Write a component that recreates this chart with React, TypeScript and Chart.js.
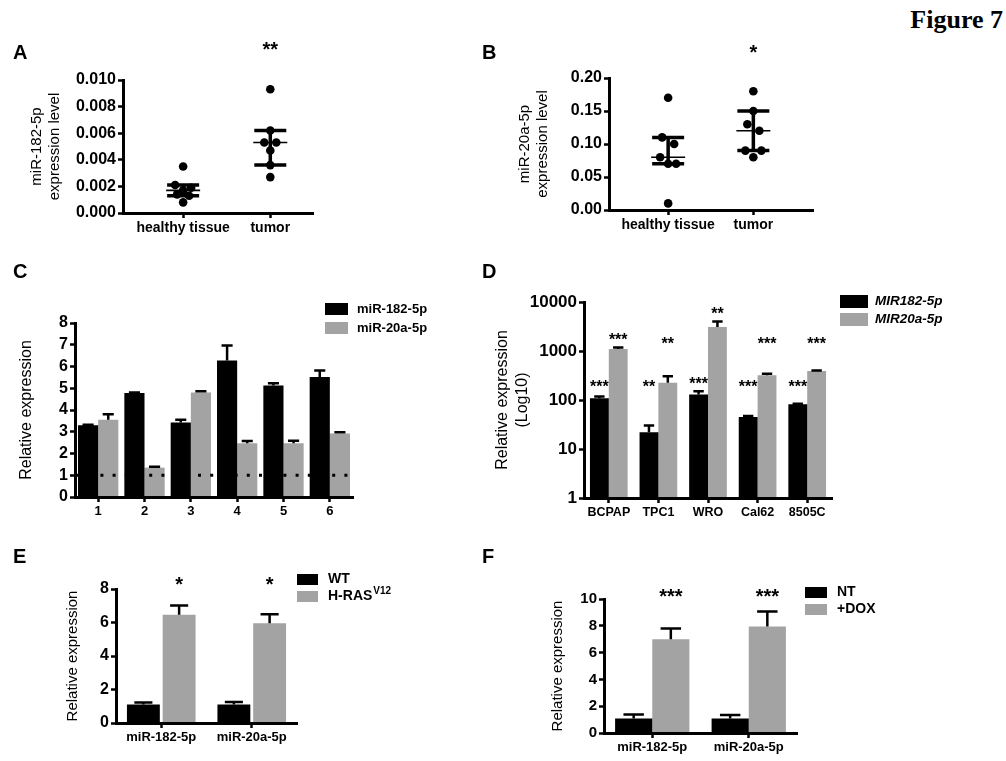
import React, { useEffect, useRef } from 'react';
import { Chart, registerables } from 'chart.js';
Chart.register(...registerables);

const FONT = "'Liberation Sans', Arial, Helvetica, sans-serif";
const BLACK = '#000000';
const GRAY = '#a3a3a3';

// ---------- Panel A ----------
const A_GROUPS = ['healthy tissue', 'tumor'];
const A_HEALTHY = [0.0035, 0.0021, 0.0019, 0.0017, 0.0014, 0.0013, 0.0008];
const A_TUMOR = [0.0093, 0.0062, 0.0053, 0.0053, 0.0047, 0.0036, 0.0027];
const A_TICKS = [0, 0.002, 0.004, 0.006, 0.008, 0.01];
const A_SIG = ['', '**'];

// ---------- Panel B ----------
const B_GROUPS = ['healthy tissue', 'tumor'];
const B_HEALTHY = [0.17, 0.11, 0.1, 0.08, 0.07, 0.07, 0.01];
const B_TUMOR = [0.18, 0.15, 0.13, 0.12, 0.09, 0.09, 0.08];
const B_TICKS = [0, 0.05, 0.1, 0.15, 0.2];
const B_SIG = ['', '*'];

// ---------- Panel C ----------
const C_SAMPLES = ['1', '2', '3', '4', '5', '6'];
const C_MIR182 = [3.3, 4.78, 3.42, 6.28, 5.13, 5.52];
const C_MIR182_ERR = [0.02, 0.03, 0.13, 0.68, 0.1, 0.3];
const C_MIR20A = [3.55, 1.35, 4.8, 2.47, 2.47, 2.92];
const C_MIR20A_ERR = [0.25, 0.04, 0.06, 0.1, 0.12, 0.06];
const C_TICKS = [0, 1, 2, 3, 4, 5, 6, 7, 8];
const C_REF = 1;

// ---------- Panel D ----------
const D_LINES = ['BCPAP', 'TPC1', 'WRO', 'Cal62', '8505C'];
const D_MIR182 = [108, 22, 130, 45, 82];
const D_MIR182_ERR = [10, 8, 20, 2, 2];
const D_MIR20A = [1100, 225, 3100, 320, 390];
const D_MIR20A_ERR = [80, 80, 900, 25, 10];
const D_TICKS = [1, 10, 100, 1000, 10000];
const D_SIG_182 = ['***', '**', '***', '***', '***'];
const D_SIG_20A = ['***', '**', '**', '***', '***'];

// ---------- Panel E ----------
const E_GROUPS = ['miR-182-5p', 'miR-20a-5p'];
const E_WT = [1.1, 1.1];
const E_WT_ERR = [0.12, 0.16];
const E_RAS = [6.46, 5.96];
const E_RAS_ERR = [0.56, 0.54];
const E_TICKS = [0, 2, 4, 6, 8];
const E_SIG = ['*', '*'];

// ---------- Panel F ----------
const F_GROUPS = ['miR-182-5p', 'miR-20a-5p'];
const F_NT = [1.08, 1.08];
const F_NT_ERR = [0.3, 0.27];
const F_DOX = [7.0, 7.95];
const F_DOX_ERR = [0.8, 1.12];
const F_TICKS = [0, 2, 4, 6, 8, 10];
const F_SIG = ['***', '***'];

type Panel = { left: number; top: number; width: number; height: number; area: { l: number; t: number; r: number; b: number } };

const PANELS: Record<string, Panel> = {
  A: { left: 0, top: 30, width: 340, height: 215, area: { l: 123, t: 80, r: 313, b: 213 } },
  B: { left: 470, top: 30, width: 350, height: 215, area: { l: 609, t: 78, r: 813, b: 210 } },
  C: { left: 0, top: 255, width: 480, height: 275, area: { l: 75, t: 323, r: 353, b: 497 } },
  D: { left: 476, top: 255, width: 530, height: 275, area: { l: 584, t: 302, r: 832, b: 498 } },
  E: { left: 0, top: 540, width: 480, height: 221, area: { l: 116, t: 589, r: 297, b: 723 } },
  F: { left: 476, top: 540, width: 530, height: 221, area: { l: 604, t: 599, r: 797, b: 733 } },
};

function fontStr(size: number, weight = 'bold', style = 'normal') {
  return `${style} ${weight} ${size}px ${FONT}`;
}

function txt(ctx: CanvasRenderingContext2D, s: string, x: number, y: number, font: string, align: CanvasTextAlign = 'left', baseline: CanvasTextBaseline = 'middle') {
  ctx.save();
  ctx.font = font;
  ctx.fillStyle = BLACK;
  ctx.textAlign = align;
  ctx.textBaseline = baseline;
  ctx.fillText(s, x, y);
  ctx.restore();
}

function stars(ctx: CanvasRenderingContext2D, s: string, x: number, cy: number, size: number) {
  if (!s) return;
  txt(ctx, s, x, cy + 0.55 * size, fontStr(size), 'center', 'alphabetic');
}

function drawLegend(chart: any, p: Panel, o: { x: number; tops: number[]; bw: number; bh: number; tx: number; size: number; italic?: boolean }) {
  const ctx: CanvasRenderingContext2D = chart.ctx;
  chart.data.datasets.forEach((ds: any, i: number) => {
    const top = o.tops[i] - p.top;
    ctx.save();
    ctx.fillStyle = ds.backgroundColor;
    ctx.fillRect(o.x - p.left, top, o.bw, o.bh);
    ctx.restore();
    const cy = top + o.bh / 2;
    const [main, sup] = String(ds.label).split('^');
    const f = fontStr(o.size, 'bold', o.italic ? 'italic' : 'normal');
    txt(ctx, main, o.tx - p.left, cy, f);
    if (sup) {
      ctx.save();
      ctx.font = f;
      const w = ctx.measureText(main).width;
      ctx.restore();
      txt(ctx, sup, o.tx - p.left + w + 1, cy - 5, fontStr(Math.round(o.size * 0.68)));
    }
  });
}

function panelLetter(chart: any, p: Panel, letter: string, x: number, y: number) {
  txt(chart.ctx, letter, x - p.left, y - p.top, fontStr(20));
}

function drawErrorBars(chart: any) {
  const ctx: CanvasRenderingContext2D = chart.ctx;
  const y = chart.scales.y;
  chart.data.datasets.forEach((ds: any, di: number) => {
    const errs: number[] | undefined = ds.errors;
    if (!errs) return;
    const meta = chart.getDatasetMeta(di);
    meta.data.forEach((bar: any, i: number) => {
      const { x, y: yTop, width } = bar.getProps(['x', 'y', 'width'], true);
      const top = y.getPixelForValue(ds.data[i] + errs[i]);
      const w = width * 0.55;
      ctx.save();
      ctx.strokeStyle = BLACK;
      ctx.lineWidth = 2.5;
      ctx.beginPath();
      ctx.moveTo(x, yTop);
      ctx.lineTo(x, top);
      ctx.moveTo(x - w / 2, top);
      ctx.lineTo(x + w / 2, top);
      ctx.stroke();
      ctx.restore();
    });
  });
}

function quantile(vals: number[], q: number) {
  const s = [...vals].sort((a, b) => a - b);
  const n = s.length;
  const r = q * (n + 1);
  const lo = Math.floor(r);
  const f = r - lo;
  if (lo < 1) return s[0];
  if (lo >= n) return s[n - 1];
  return s[lo - 1] + f * (s[lo] - s[lo - 1]);
}

function gridOpts() {
  return { display: true, drawOnChartArea: false, drawTicks: true, tickLength: 5, tickWidth: 2.5, tickColor: BLACK, offset: false };
}
function borderOpts() {
  return { display: true, width: 3, color: BLACK, z: 1 };
}

function yOpts(p: Panel, o: { type?: string; min: number; max: number; ticks: number[]; fmt: (v: number) => string; title: string[]; titleSize: number; titleLH: number; tickSize: number; titleX: number }) {
  return {
    type: o.type || 'linear',
    min: o.min,
    max: o.max,
    afterFit: (s: any) => { s.width = p.area.l - p.left; },
    afterBuildTicks: (s: any) => { s.ticks = o.ticks.map((v) => ({ value: v })); },
    grid: gridOpts(),
    border: borderOpts(),
    ticks: { color: BLACK, padding: 2, autoSkip: false, font: { family: FONT, size: o.tickSize, weight: 'bold' }, callback: (v: any) => o.fmt(Number(v)) },
    title: {
      display: true,
      text: o.title,
      color: BLACK,
      font: { family: FONT, size: o.titleSize, weight: 'normal', lineHeight: o.titleLH },
      padding: { top: o.titleX - p.left - (o.titleSize * o.titleLH) / 2, bottom: 0 },
    },
  };
}

function xCatOpts(p: Panel, size: number) {
  return {
    type: 'category',
    afterFit: (s: any) => { s.height = p.top + p.height - p.area.b; },
    grid: gridOpts(),
    border: borderOpts(),
    ticks: { color: BLACK, padding: 2, autoSkip: false, maxRotation: 0, font: { family: FONT, size, weight: 'bold' } },
  };
}

function baseOptions(p: Panel, scales: any) {
  return {
    responsive: false,
    maintainAspectRatio: false,
    animation: false,
    devicePixelRatio: 1,
    layout: { padding: { left: 0, top: p.area.t - p.top, right: p.left + p.width - p.area.r, bottom: 0 } },
    plugins: { legend: { display: false }, tooltip: { enabled: false }, title: { display: false } },
    scales,
  };
}

// ------- scatter panels (A, B) -------
function scatterChart(canvas: HTMLCanvasElement, p: Panel, o: { letter: string; letterX: number; groups: string[]; healthy: number[]; tumor: number[]; ticks: number[]; dec: number; title: string[]; titleX: number; sig: string[]; sigAbove: number; xmin: number; xmax: number }) {
  const sets = [o.healthy, o.tumor];
  const cfg: any = {
    type: 'scatter',
    data: {
      datasets: sets.map((vals, gi) => ({
        label: o.groups[gi],
        data: vals.map((v) => ({ x: gi + 1, y: v })),
        pointRadius: 4.3,
        pointHoverRadius: 4.3,
        pointBackgroundColor: BLACK,
        pointBorderWidth: 0,
        backgroundColor: BLACK,
      })),
    },
    options: baseOptions(p, {
      x: {
        type: 'linear',
        min: o.xmin,
        max: o.xmax,
        afterFit: (s: any) => { s.height = p.top + p.height - p.area.b; },
        afterBuildTicks: (s: any) => { s.ticks = o.groups.map((_, i) => ({ value: i + 1 })); },
        grid: gridOpts(),
        border: borderOpts(),
        ticks: { color: BLACK, padding: 2, autoSkip: false, maxRotation: 0, font: { family: FONT, size: 14, weight: 'bold' }, callback: (v: any) => o.groups[Number(v) - 1] ?? '' },
      },
      y: yOpts(p, { min: o.ticks[0], max: o.ticks[o.ticks.length - 1], ticks: o.ticks, fmt: (v) => v.toFixed(o.dec), title: o.title, titleSize: 15, titleLH: 1.2, tickSize: 16, titleX: o.titleX }),
    }),
    plugins: [
      {
        id: 'scatterDeco',
        beforeDatasetsDraw(chart: any) {
          const ctx: CanvasRenderingContext2D = chart.ctx;
          const xs = chart.scales.x;
          const ys = chart.scales.y;
          sets.forEach((vals, gi) => {
            const cx = xs.getPixelForValue(gi + 1);
            const q1 = ys.getPixelForValue(quantile(vals, 0.25));
            const md = ys.getPixelForValue(quantile(vals, 0.5));
            const q3 = ys.getPixelForValue(quantile(vals, 0.75));
            ctx.save();
            ctx.strokeStyle = BLACK;
            ctx.lineWidth = 3.5;
            ctx.beginPath();
            ctx.moveTo(cx, q1); ctx.lineTo(cx, q3);
            ctx.moveTo(cx - 16, q1); ctx.lineTo(cx + 16, q1);
            ctx.moveTo(cx - 16, q3); ctx.lineTo(cx + 16, q3);
            ctx.stroke();
            ctx.lineWidth = 1.6;
            ctx.beginPath();
            ctx.moveTo(cx - 17, md); ctx.lineTo(cx + 17, md);
            ctx.stroke();
            ctx.restore();
          });
        },
        afterDraw(chart: any) {
          const xs = chart.scales.x;
          panelLetter(chart, p, o.letter, o.letterX, 53);
          o.sig.forEach((s, i) => stars(chart.ctx, s, xs.getPixelForValue(i + 1), chart.chartArea.top - o.sigAbove, 20));
        },
      },
    ],
  };
  const ch = new Chart(canvas, cfg);
  // beeswarm-style spreading of points that share a row
  const xs = ch.scales.x as any;
  const ys = ch.scales.y as any;
  ch.data.datasets.forEach((ds: any, gi: number) => {
    const vals: number[] = sets[gi];
    const order = vals.map((_, i) => i).sort((a, b) => vals[b] - vals[a]);
    const xv = new Array(vals.length).fill(gi + 1);
    const cpx = xs.getPixelForValue(gi + 1);
    let bin: number[] = [];
    let start: number | null = null;
    const flush = () => {
      const k = bin.length;
      const slots = k === 3 ? [-1, 1, 0] : bin.map((_, j) => j - (k - 1) / 2);
      const unit = k === 2 ? 12 : 8;
      bin.forEach((idx, j) => { xv[idx] = xs.getValueForPixel(cpx + slots[j] * unit); });
      bin = [];
    };
    order.forEach((idx) => {
      const py = ys.getPixelForValue(vals[idx]);
      if (start === null || py - start > 7) { flush(); start = py; }
      bin.push(idx);
    });
    flush();
    ds.data = vals.map((v, i) => ({ x: xv[i], y: v }));
  });
  ch.update();
  return ch;
}

// ------- bar panels -------
function barChart(canvas: HTMLCanvasElement, p: Panel, o: {
  labels: string[]; series: { label: string; data: number[]; err: number[]; color: string }[];
  barPct: number; catPct: number; xSize: number;
  y: any; extra: (chart: any) => void;
}) {
  const cfg: any = {
    type: 'bar',
    data: {
      labels: o.labels,
      datasets: o.series.map((s) => ({
        label: s.label,
        data: s.data,
        errors: s.err,
        backgroundColor: s.color,
        borderWidth: 0,
        barPercentage: o.barPct,
        categoryPercentage: o.catPct,
      })),
    },
    options: baseOptions(p, { x: xCatOpts(p, o.xSize), y: o.y }),
    plugins: [
      {
        id: 'barDeco',
        afterDatasetsDraw(chart: any) { drawErrorBars(chart); },
        afterDraw(chart: any) { o.extra(chart); },
      },
    ],
  };
  return new Chart(canvas, cfg);
}

export default function App() {
  const refs = {
    A: useRef<HTMLCanvasElement>(null),
    B: useRef<HTMLCanvasElement>(null),
    C: useRef<HTMLCanvasElement>(null),
    D: useRef<HTMLCanvasElement>(null),
    E: useRef<HTMLCanvasElement>(null),
    F: useRef<HTMLCanvasElement>(null),
  };

  useEffect(() => {
    const charts: Chart[] = [];
    const P = PANELS;

    charts.push(scatterChart(refs.A.current!, P.A, {
      letter: 'A', letterX: 13, groups: A_GROUPS, healthy: A_HEALTHY, tumor: A_TUMOR, ticks: A_TICKS, dec: 3,
      title: ['miR-182-5p', 'expression level'], titleX: 37, sig: A_SIG, sigAbove: 35, xmin: 0.31, xmax: 2.49,
    }));
    charts.push(scatterChart(refs.B.current!, P.B, {
      letter: 'B', letterX: 482, groups: B_GROUPS, healthy: B_HEALTHY, tumor: B_TUMOR, ticks: B_TICKS, dec: 2,
      title: ['miR-20a-5p', 'expression level'], titleX: 525, sig: B_SIG, sigAbove: 30, xmin: 0.306, xmax: 2.7,
    }));

    // C
    charts.push(barChart(refs.C.current!, P.C, {
      labels: C_SAMPLES,
      series: [
        { label: 'miR-182-5p', data: C_MIR182, err: C_MIR182_ERR, color: BLACK },
        { label: 'miR-20a-5p', data: C_MIR20A, err: C_MIR20A_ERR, color: GRAY },
      ],
      barPct: 1, catPct: 0.87, xSize: 13,
      y: yOpts(P.C, { min: 0, max: 8, ticks: C_TICKS, fmt: (v) => String(v), title: ['Relative expression'], titleSize: 16, titleLH: 1.2, tickSize: 16, titleX: 27 }),
      extra: (chart) => {
        const ctx: CanvasRenderingContext2D = chart.ctx;
        const a = chart.chartArea;
        const yy = chart.scales.y.getPixelForValue(C_REF);
        ctx.save();
        ctx.strokeStyle = BLACK;
        ctx.lineWidth = 3;
        ctx.setLineDash([3, 9.2]);
        ctx.beginPath();
        ctx.moveTo(a.left + 1, yy);
        ctx.lineTo(a.right, yy);
        ctx.stroke();
        ctx.restore();
        panelLetter(chart, P.C, 'C', 13, 272);
        drawLegend(chart, P.C, { x: 325, tops: [303, 322], bw: 23, bh: 12, tx: 357, size: 13 });
      },
    }));

    // D
    charts.push(barChart(refs.D.current!, P.D, {
      labels: D_LINES,
      series: [
        { label: 'MIR182-5p', data: D_MIR182, err: D_MIR182_ERR, color: BLACK },
        { label: 'MIR20a-5p', data: D_MIR20A, err: D_MIR20A_ERR, color: GRAY },
      ],
      barPct: 1, catPct: 0.76, xSize: 12.5,
      y: yOpts(P.D, { type: 'logarithmic', min: 1, max: 10000, ticks: D_TICKS, fmt: (v) => String(v), title: ['Relative expression', '(Log10)'], titleSize: 16, titleLH: 1.25, tickSize: 17, titleX: 503 }),
      extra: (chart) => {
        const ys = chart.scales.y;
        const rows = [220, 1700];
        const sigs = [D_SIG_182, D_SIG_20A];
        chart.data.datasets.forEach((ds: any, di: number) => {
          const meta = chart.getDatasetMeta(di);
          meta.data.forEach((bar: any, i: number) => {
            const errTop = ys.getPixelForValue(ds.data[i] + ds.errors[i]);
            const cy = Math.min(ys.getPixelForValue(rows[di]), errTop - 11);
            stars(chart.ctx, sigs[di][i], bar.x, cy, 16);
          });
        });
        panelLetter(chart, P.D, 'D', 482, 272);
        drawLegend(chart, P.D, { x: 840, tops: [295, 313], bw: 28, bh: 13, tx: 875, size: 13.5, italic: true });
      },
    }));

    // E
    charts.push(barChart(refs.E.current!, P.E, {
      labels: E_GROUPS,
      series: [
        { label: 'WT', data: E_WT, err: E_WT_ERR, color: BLACK },
        { label: 'H-RAS^V12', data: E_RAS, err: E_RAS_ERR, color: GRAY },
      ],
      barPct: 0.92, catPct: 0.79, xSize: 13,
      y: yOpts(P.E, { min: 0, max: 8, ticks: E_TICKS, fmt: (v) => String(v), title: ['Relative expression'], titleSize: 15, titleLH: 1.2, tickSize: 16, titleX: 73 }),
      extra: (chart) => {
        const meta = chart.getDatasetMeta(1);
        meta.data.forEach((bar: any, i: number) => stars(chart.ctx, E_SIG[i], bar.x, chart.chartArea.top - 9, 20));
        panelLetter(chart, P.E, 'E', 13, 557);
        drawLegend(chart, P.E, { x: 297, tops: [574, 591], bw: 21, bh: 11, tx: 328, size: 14 });
      },
    }));

    // F
    charts.push(barChart(refs.F.current!, P.F, {
      labels: F_GROUPS,
      series: [
        { label: 'NT', data: F_NT, err: F_NT_ERR, color: BLACK },
        { label: '+DOX', data: F_DOX, err: F_DOX_ERR, color: GRAY },
      ],
      barPct: 1, catPct: 0.77, xSize: 13,
      y: yOpts(P.F, { min: 0, max: 10, ticks: F_TICKS, fmt: (v) => String(v), title: ['Relative expression'], titleSize: 15, titleLH: 1.2, tickSize: 15, titleX: 558 }),
      extra: (chart) => {
        const meta = chart.getDatasetMeta(1);
        meta.data.forEach((bar: any, i: number) => stars(chart.ctx, F_SIG[i], bar.x, chart.chartArea.top - 7, 20));
        panelLetter(chart, P.F, 'F', 482, 557);
        drawLegend(chart, P.F, { x: 805, tops: [587, 604], bw: 22, bh: 11, tx: 837, size: 14 });
      },
    }));

    return () => { charts.forEach((c) => c.destroy()); };
  }, []);

  const canvasFor = (k: keyof typeof refs) => {
    const p = PANELS[k];
    return (
      <canvas
        key={k}
        ref={refs[k]}
        width={p.width}
        height={p.height}
        style={{ position: 'absolute', left: p.left, top: p.top, width: p.width, height: p.height }}
      />
    );
  };

  return (
    <div style={{ position: 'fixed', left: 0, top: 0, width: 1006, height: 761, background: '#ffffff', overflow: 'hidden' }}>
      <div style={{ position: 'absolute', right: 3, top: 7, font: `bold 26px 'Liberation Serif', 'Times New Roman', serif`, lineHeight: '26px', color: '#000' }}>
        Figure 7
      </div>
      {(['A', 'B', 'C', 'D', 'E', 'F'] as const).map((k) => canvasFor(k))}
    </div>
  );
}
